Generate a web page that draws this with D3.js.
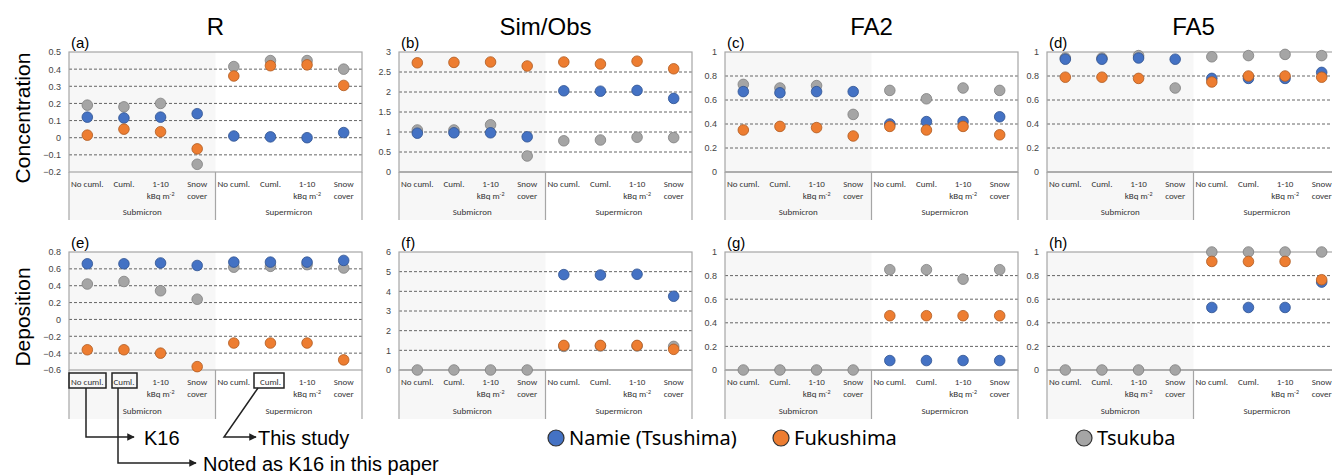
<!DOCTYPE html>
<html><head><meta charset="utf-8">
<script src="https://cdn.jsdelivr.net/npm/d3@7"></script>
<style>body{margin:0;background:#fff}svg{font-family:Calibri,"Liberation Sans",Arial,sans-serif}</style>
</head><body><div id="viz"></div>
<script>
// categories and series
var categories = ["No cuml.", "Cuml.", "1-10 kBq m-2", "Snow cover"];
var groups = ["Submicron", "Supermicron"];
var series = ["Namie (Tsushima)", "Fukushima", "Tsukuba"];
var colors = ["#4472C4", "#ED7D31", "#A5A5A5"];
var strokes = ["#2F528F", "#AE5A21", "#7F7F7F"];
var colTitles = ["R", "Sim/Obs", "FA2", "FA5"];
var rowTitles = ["Concentration", "Deposition"];
var panelLabels = ["(a)", "(b)", "(c)", "(d)", "(e)", "(f)", "(g)", "(h)"];

// values per panel: 8 per series (4 submicron + 4 supermicron)
var aNamie = [0.12, 0.115, 0.12, 0.14, 0.01, 0.005, 0.0, 0.03];
var aFuku  = [0.015, 0.05, 0.035, -0.065, 0.36, 0.42, 0.425, 0.305];
var aTsuk  = [0.19, 0.18, 0.20, -0.155, 0.415, 0.45, 0.45, 0.40];
var bNamie = [0.97, 0.98, 0.98, 0.88, 2.03, 2.02, 2.04, 1.84];
var bFuku  = [2.73, 2.74, 2.75, 2.65, 2.75, 2.70, 2.77, 2.58];
var bTsuk  = [1.05, 1.05, 1.18, 0.40, 0.78, 0.80, 0.87, 0.86];
var cNamie = [0.67, 0.66, 0.67, 0.67, 0.40, 0.42, 0.42, 0.46];
var cFuku  = [0.35, 0.38, 0.37, 0.30, 0.38, 0.35, 0.38, 0.31];
var cTsuk  = [0.73, 0.70, 0.72, 0.48, 0.68, 0.61, 0.70, 0.68];
var dNamie = [0.94, 0.94, 0.95, 0.94, 0.78, 0.78, 0.78, 0.83];
var dFuku  = [0.79, 0.79, 0.78, null, 0.75, 0.80, 0.80, 0.79];
var dTsuk  = [0.95, 0.95, 0.97, 0.70, 0.96, 0.97, 0.98, 0.97];
var eNamie = [0.66, 0.66, 0.67, 0.64, 0.68, 0.68, 0.68, 0.70];
var eFuku  = [-0.36, -0.36, -0.40, -0.56, -0.28, -0.28, -0.28, -0.48];
var eTsuk  = [0.42, 0.45, 0.34, 0.24, 0.62, 0.63, 0.65, 0.61];
var fNamie = [null, null, null, null, 4.85, 4.83, 4.87, 3.75];
var fFuku  = [null, null, null, null, 1.25, 1.25, 1.25, 1.05];
var fTsuk  = [0, 0, 0, 0, 1.2, 1.22, 1.22, 1.2];
var gNamie = [null, null, null, null, 0.08, 0.08, 0.08, 0.08];
var gFuku  = [null, null, null, null, 0.46, 0.46, 0.46, 0.46];
var gTsuk  = [0, 0, 0, 0, 0.85, 0.85, 0.77, 0.85];
var hNamie = [null, null, null, null, 0.53, 0.53, 0.53, 0.745];
var hFuku  = [null, null, null, null, 0.92, 0.92, 0.92, 0.765];
var hTsuk  = [0, 0, 0, 0, 1, 1, 1, 1];

var yDomains = [[-0.2, 0.5], [0, 3], [0, 1], [0, 1], [-0.6, 0.8], [0, 6], [0, 1], [0, 1]];
var yTicks = [
  [-0.2, -0.1, 0, 0.1, 0.2, 0.3, 0.4, 0.5], [0, 0.5, 1, 1.5, 2, 2.5, 3],
  [0, 0.2, 0.4, 0.6, 0.8, 1], [0, 0.2, 0.4, 0.6, 0.8, 1],
  [-0.6, -0.4, -0.2, 0, 0.2, 0.4, 0.6, 0.8], [0, 1, 2, 3, 4, 5, 6],
  [0, 0.2, 0.4, 0.6, 0.8, 1], [0, 0.2, 0.4, 0.6, 0.8, 1]];
var panelData = [
  [aNamie, aFuku, aTsuk], [bNamie, bFuku, bTsuk], [cNamie, cFuku, cTsuk], [dNamie, dFuku, dTsuk],
  [eNamie, eFuku, eTsuk], [fNamie, fFuku, fTsuk], [gNamie, gFuku, gTsuk], [hNamie, hFuku, hTsuk]];

var svg = d3.select("#viz").append("svg").attr("width", 1332).attr("height", 475);

var colX = [69, 399, 725, 1047], pw = 293;
var rowY = [[52, 172, 220], [252, 370, 419]]; // plot top, plot bottom, frame bottom

// column titles
colTitles.forEach(function(t, i) {
  svg.append("text").attr("x", colX[i] + pw / 2).attr("y", 35).attr("text-anchor", "middle")
    .style("font-size", "24px").style("font-family", "Liberation Sans").text(t);
});
rowTitles.forEach(function(t, r) {
  var cy = (rowY[r][0] + rowY[r][1]) / 2 + 6;
  svg.append("text").attr("transform", "translate(30," + cy + ") rotate(-90)").attr("text-anchor", "middle")
    .style("font-size", "21px").style("font-family", "Liberation Sans").text(t);
});

// draw order: gray, blue, orange
var drawOrder = [2, 0, 1];
var lbl = function(sel) { return sel.attr("text-anchor", "middle").style("font-size", "9px").attr("fill", "#333"); };

panelData.forEach(function(pd, p) {
  var r = Math.floor(p / 4), c = p % 4;
  var x0 = colX[c], top = rowY[r][0], bot = rowY[r][1], fb = rowY[r][2];
  var g = svg.append("g");
  var x = d3.scaleBand().domain(d3.range(8)).range([x0, x0 + pw]);
  var y = d3.scaleLinear().domain(yDomains[p]).range([bot, top]);
  var mid = x0 + pw / 2;

  g.append("rect").attr("x", x0).attr("y", top).attr("width", pw / 2).attr("height", fb - top).attr("fill", "#f7f7f7");

  // grid lines
  yTicks[p].forEach(function(t) {
    if (t === yDomains[p][0] || t === yDomains[p][1]) return;
    g.append("line").attr("x1", x0).attr("x2", x0 + pw).attr("y1", y(t)).attr("y2", y(t))
      .attr("stroke", "#555").attr("stroke-width", 0.9).attr("stroke-dasharray", "3,2");
  });
  if (yDomains[p][0] >= 0) {
    g.append("line").attr("x1", x0).attr("x2", x0 + pw).attr("y1", y(0)).attr("y2", y(0))
      .attr("stroke", "#a6a6a6").attr("stroke-width", 1.5);
  }
  // frame
  g.append("rect").attr("x", x0).attr("y", top).attr("width", pw).attr("height", bot - top)
    .attr("fill", "none").attr("stroke", "#a6a6a6").attr("stroke-width", 1.2);
  [x0, mid, x0 + pw].forEach(function(vx) {
    g.append("line").attr("x1", vx).attr("x2", vx).attr("y1", bot).attr("y2", fb)
      .attr("stroke", "#a6a6a6").attr("stroke-width", 1.2);
  });

  // y axis labels
  g.append("g").attr("transform", "translate(" + (x0 - 2) + ",0)")
    .call(d3.axisLeft(y).tickValues(yTicks[p]).tickSize(0).tickPadding(6).tickFormat(d3.format("")))
    .call(function(a) { a.select(".domain").remove(); })
    .selectAll("text").style("font-size", "9px").attr("fill", "#444").style("font-family", "Liberation Sans");

  // category labels
  d3.range(8).forEach(function(i) {
    var cx = x(i) + x.bandwidth() / 2, k = i % 4;
    var t = lbl(g.append("text").attr("x", cx).attr("y", bot + 15));
    if (k === 0 || k === 1) {
      t.text(categories[k]);
    } else if (k === 2) {
      t.text("1-10");
      var t2 = lbl(g.append("text").attr("x", cx).attr("y", bot + 27));
      t2.append("tspan").text("kBq m");
      t2.append("tspan").attr("dy", -3).style("font-size", "6px").text("-2");
    } else {
      t.text("Snow");
      lbl(g.append("text").attr("x", cx).attr("y", bot + 27)).text("cover");
    }
  });
  groups.forEach(function(gr, j) {
    lbl(g.append("text").attr("x", x0 + pw / 4 + j * pw / 2).attr("y", fb - 5)).text(gr);
  });

  // panel label
  g.append("text").attr("x", x0 + 2).attr("y", top - 4).style("font-size", "15px").style("font-family", "Liberation Sans").text(panelLabels[p]);

  // points
  drawOrder.forEach(function(s) {
    g.selectAll(null).data(pd[s].map(function(v, i) { return {v: v, i: i}; }).filter(function(d) { return d.v !== null; }))
      .enter().append("circle")
      .attr("cx", function(d) { return x(d.i) + x.bandwidth() / 2; })
      .attr("cy", function(d) { return y(d.v); })
      .attr("r", 5.3).attr("fill", colors[s]).attr("stroke", strokes[s]).attr("stroke-width", 0.8);
  });
});

// legend
var legX = [556, 781, 1084];
series.forEach(function(s, i) {
  svg.append("circle").attr("cx", legX[i]).attr("cy", 438).attr("r", 8).attr("fill", colors[i]).attr("stroke", "#333").attr("stroke-width", 1.2);
  svg.append("text").attr("x", legX[i] + 13).attr("y", 445).style("font-size", "20px").style("font-family", "Noto Sans").text(s);
});

// callout annotation in panel (e)
var ann = svg.append("g").attr("stroke", "#222").attr("stroke-width", 1.5).attr("fill", "none");
svg.append("defs").append("marker").attr("id", "ar").attr("viewBox", "0 0 10 10").attr("refX", 9).attr("refY", 5)
  .attr("markerWidth", 5).attr("markerHeight", 5).attr("orient", "auto")
  .append("path").attr("d", "M0,0L10,5L0,10z").attr("fill", "#222");
ann.append("rect").attr("x", 69).attr("y", 373).attr("width", 37).attr("height", 15);
ann.append("rect").attr("x", 112).attr("y", 373).attr("width", 25).attr("height", 15);
ann.append("rect").attr("x", 254).attr("y", 373).attr("width", 30).attr("height", 15);
ann.append("path").attr("d", "M86,388V437H134").attr("marker-end", "url(#ar)");
ann.append("path").attr("d", "M118,388V463H196").attr("marker-end", "url(#ar)");
ann.append("path").attr("d", "M258,388L224,437H256").attr("marker-end", "url(#ar)");
[["K16", 144, 445], ["This study", 258, 445], ["Noted as K16 in this paper", 203, 471]].forEach(function(a) {
  svg.append("text").attr("x", a[1]).attr("y", a[2]).style("font-size", "20px").style("font-family", "Liberation Sans").text(a[0]);
});
</script></body></html>
